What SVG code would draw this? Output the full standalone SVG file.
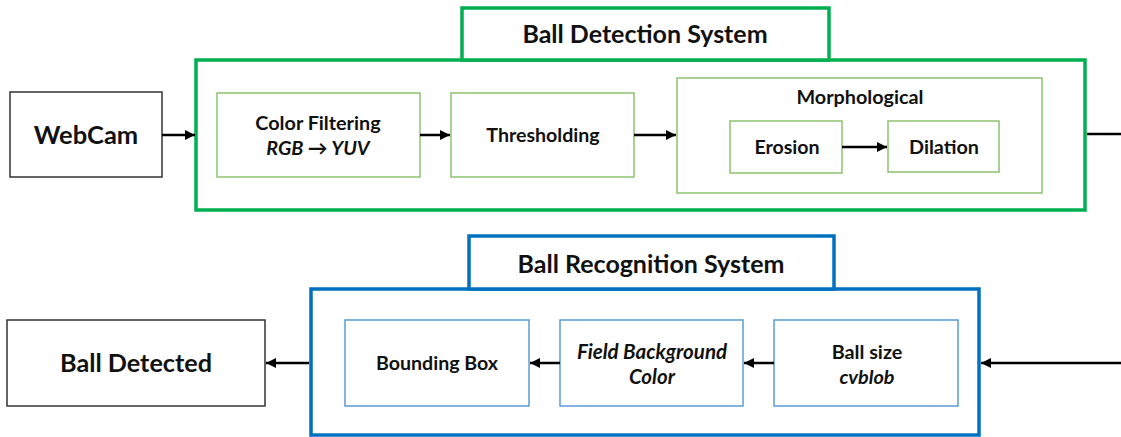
<svg xmlns="http://www.w3.org/2000/svg" width="1121" height="437" viewBox="0 0 1121 437">
<defs>
<marker id="ah" viewBox="0 0 10 10" refX="10" refY="5" markerWidth="10" markerHeight="10" markerUnits="userSpaceOnUse" orient="auto">
<path d="M0,0 L10,5 L0,10 z" fill="#000"/>
</marker>
<style>
.t{font-family:Lato,"Liberation Sans",Arial,sans-serif;font-weight:bold;fill:#111;text-anchor:middle;dominant-baseline:central}
.i{font-style:italic}
.blk{fill:#fff;stroke:#333;stroke-width:1.5}
.gout{fill:#fff;stroke:#00B050;stroke-width:3.5}
.gin{fill:#fff;stroke:#8DC26F;stroke-width:1.5}
.bout{fill:#fff;stroke:#0070C0;stroke-width:3.5}
.bin{fill:#fff;stroke:#5B9BD5;stroke-width:1.5}
.c{stroke:#000;stroke-width:2.5;fill:none}
</style>
</defs>
<g id="detection-system">
<rect class="gout" x="196" y="60" width="889" height="150"/>
<rect class="gout" x="462" y="8" width="367" height="52"/>
<text class="t" x="645" y="33" font-size="25">Ball Detection System</text>
</g>
<g id="recognition-system">
<rect class="bout" x="311" y="289" width="668" height="146"/>
<rect class="bout" x="469" y="236" width="365" height="53"/>
<text class="t" x="651" y="263" font-size="25">Ball Recognition System</text>
</g>
<g id="webcam">
<rect class="blk" x="10" y="92" width="152" height="85"/>
<text class="t" x="86" y="134" font-size="25.5">WebCam</text>
</g>
<g id="color-filtering">
<rect class="gin" x="217" y="93" width="203" height="84"/>
<text class="t" x="318" y="122" font-size="19.8">Color Filtering</text>
<text class="t i" x="318" y="147" font-size="19.8">RGB → YUV</text>
</g>
<g id="thresholding">
<rect class="gin" x="451" y="93" width="183" height="84"/>
<text class="t" x="543" y="134" font-size="19.6">Thresholding</text>
</g>
<g id="morphological">
<rect class="gin" x="677" y="78" width="365" height="115"/>
<text class="t" x="860" y="96" font-size="19.8">Morphological</text>
</g>
<g id="erosion">
<rect class="gin" x="730" y="121" width="112" height="52"/>
<text class="t" x="787" y="146" font-size="19.6">Erosion</text>
</g>
<g id="dilation">
<rect class="gin" x="888" y="121" width="111" height="51"/>
<text class="t" x="944" y="146" font-size="19.8">Dilation</text>
</g>
<g id="ball-detected">
<rect class="blk" x="7" y="320" width="258" height="86"/>
<text class="t" x="136" y="362" font-size="25.2">Ball Detected</text>
</g>
<g id="bounding-box">
<rect class="bin" x="345" y="320" width="184" height="86"/>
<text class="t" x="437" y="362" font-size="19.6">Bounding Box</text>
</g>
<g id="field-background">
<rect class="bin" x="560" y="320" width="183" height="86"/>
<text class="t i" x="652" y="351" font-size="20.5">Field Background</text>
<text class="t i" x="652" y="376" font-size="20.5">Color</text>
</g>
<g id="ball-size">
<rect class="bin" x="774" y="320" width="184" height="86"/>
<text class="t" x="867" y="351" font-size="19.8">Ball size</text>
<text class="t i" x="867" y="376" font-size="19.8">cvblob</text>
</g>
<g id="connectors">
<line class="c" x1="162" y1="135" x2="195" y2="135" marker-end="url(#ah)"/>
<line class="c" x1="420" y1="135" x2="450" y2="135" marker-end="url(#ah)"/>
<line class="c" x1="634" y1="135" x2="676" y2="135" marker-end="url(#ah)"/>
<line class="c" x1="842" y1="147" x2="887" y2="147" marker-end="url(#ah)"/>
<line class="c" x1="1087" y1="134" x2="1121" y2="134"/>
<line class="c" x1="1121" y1="363" x2="981" y2="363" marker-end="url(#ah)"/>
<line class="c" x1="774" y1="363" x2="744" y2="363" marker-end="url(#ah)"/>
<line class="c" x1="560" y1="363" x2="530" y2="363" marker-end="url(#ah)"/>
<line class="c" x1="309" y1="363" x2="266" y2="363" marker-end="url(#ah)"/>
</g>
</svg>
